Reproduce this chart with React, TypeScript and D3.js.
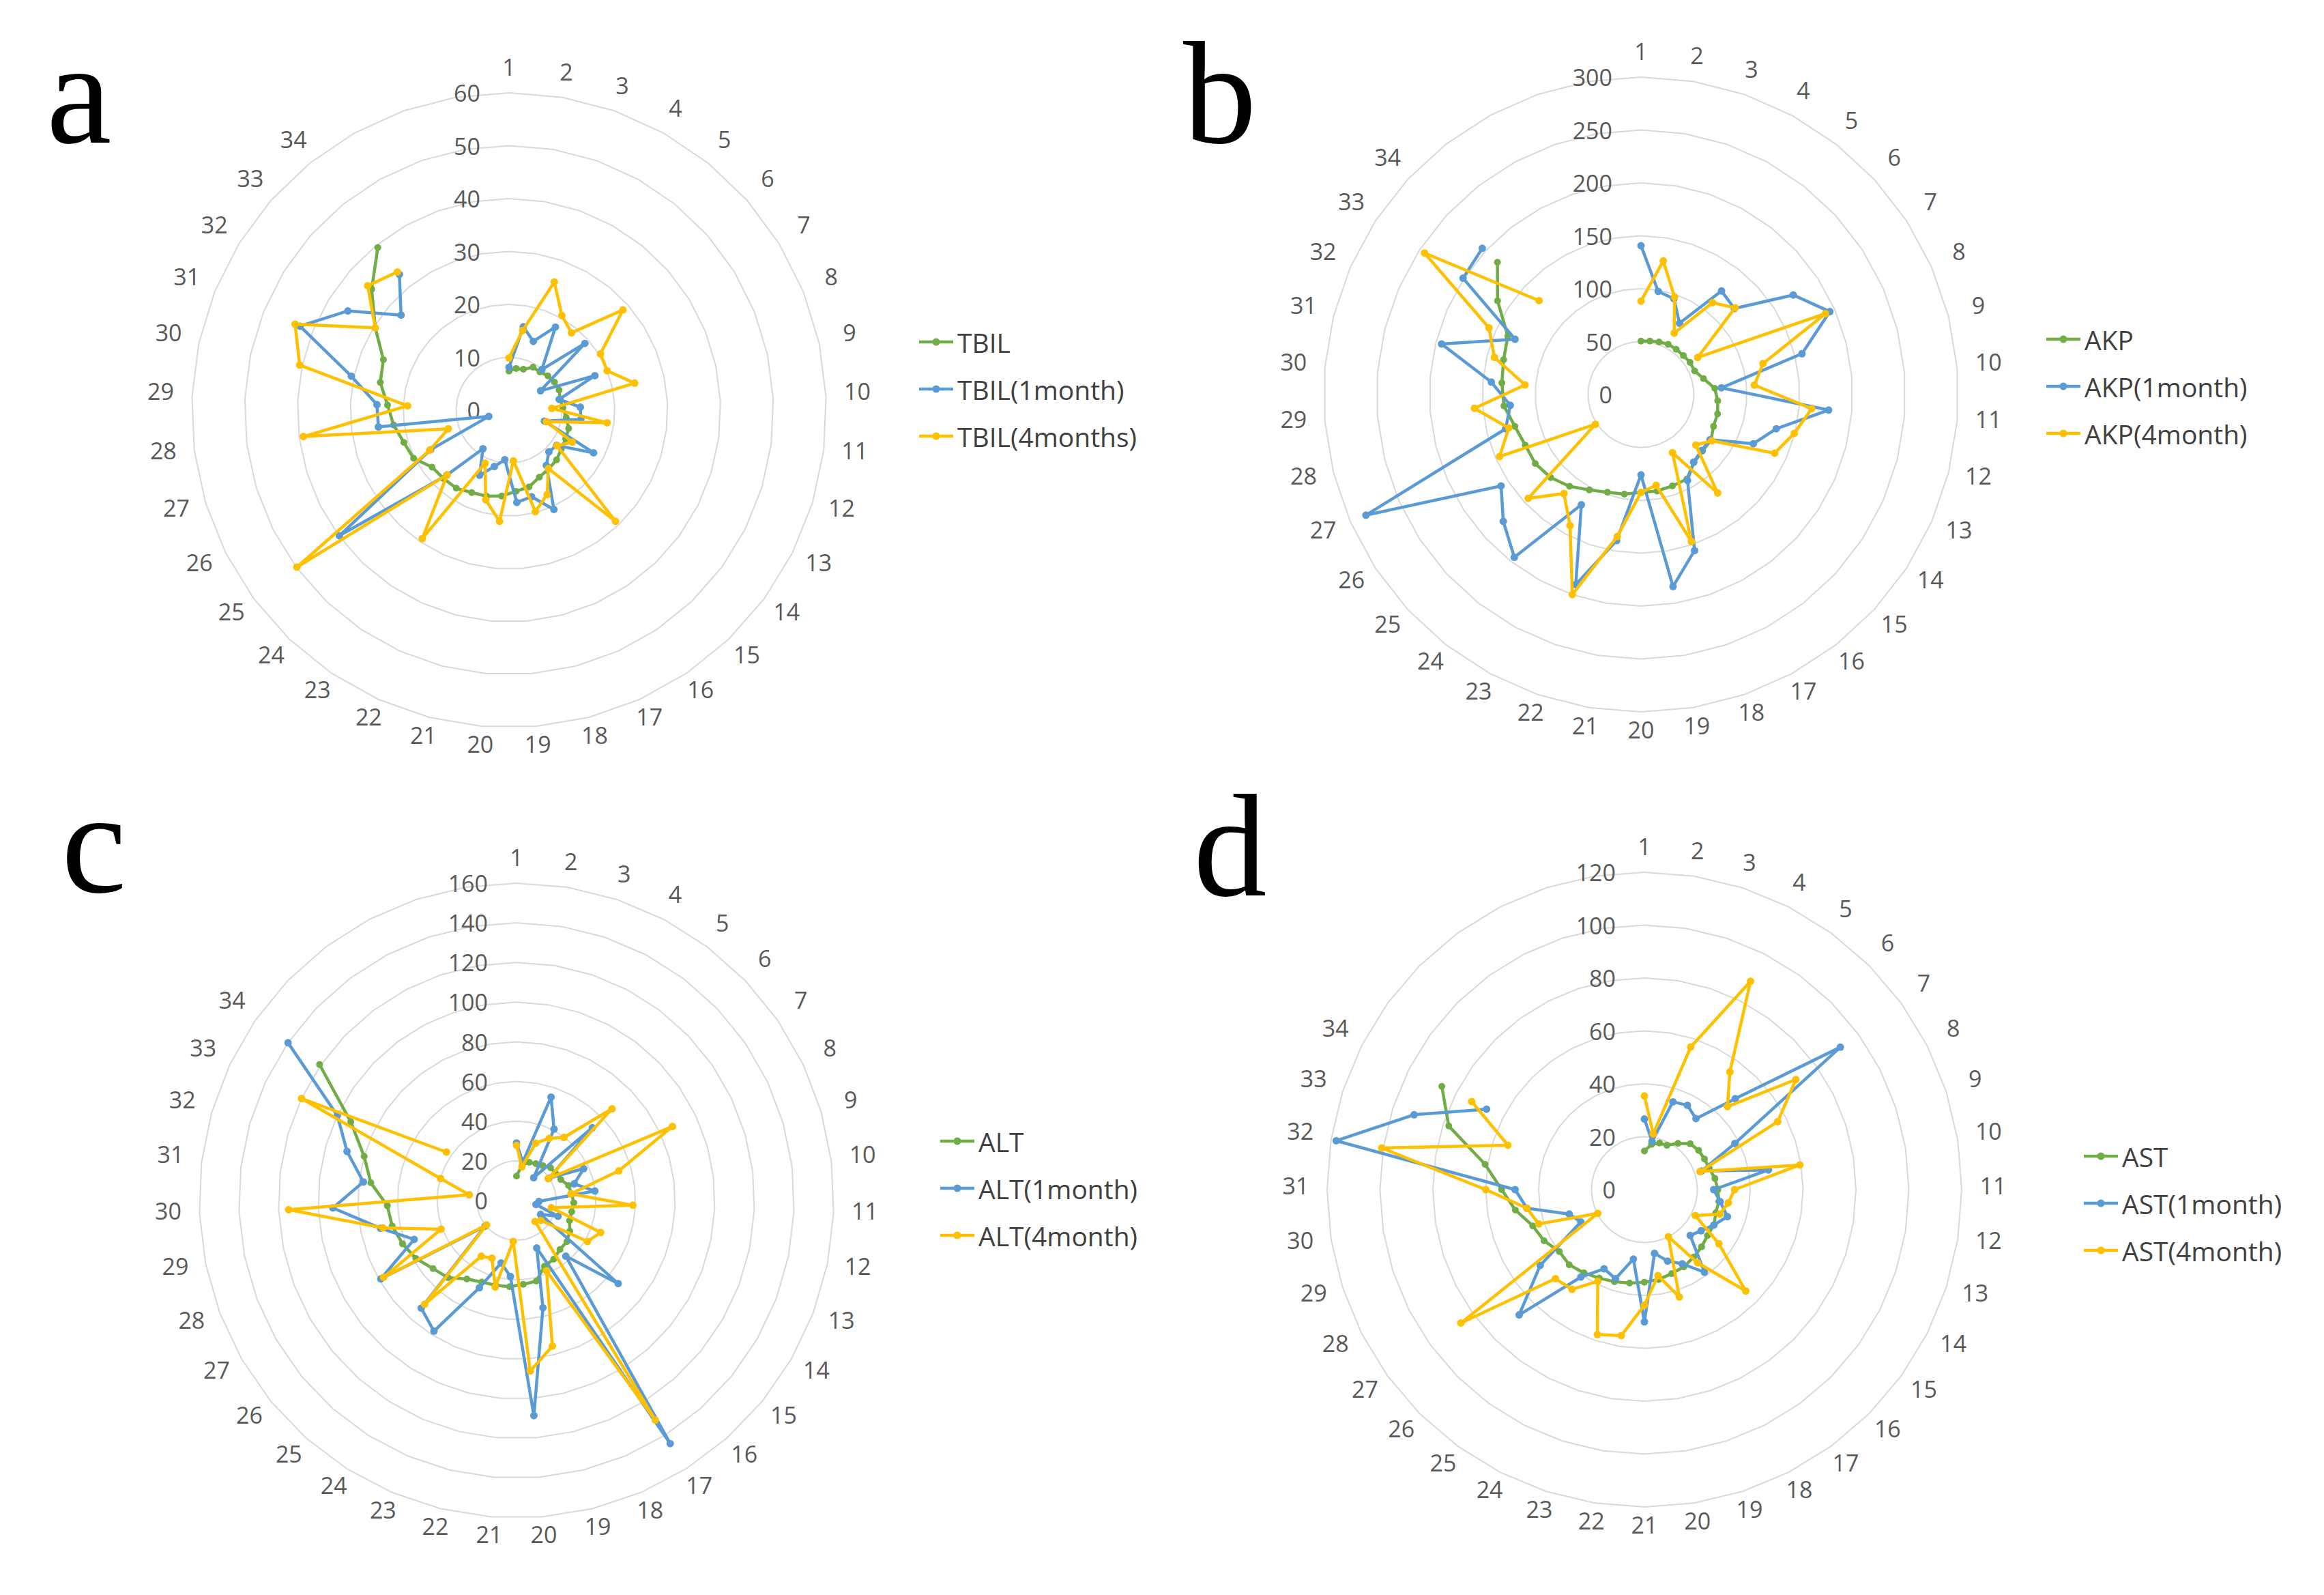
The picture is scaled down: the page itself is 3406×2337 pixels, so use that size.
import * as d3 from "d3";

// category labels 1..34 (the remaining radar slots are blank in the source)
const categories = d3.range(1, 35).map(String);

// panel a
const tbil = [7.4, 8.0, 8.2, 9.3, 9.3, 9.8, 10.1, 10.2, 9.9, 10.2, 10.9, 11.8, 12.0, 12.3, 13.0, 13.4, 13.9, 15.0, 15.4, 16.3, 16.8, 17.1, 17.8, 17.9, 18.1, 20.2, 20.8, 22.0, 23.0, 24.9, 25.6, 29.7, 34.6, 39.5];
const tbil1m = [8.1, 16.0, 13.8, 18.0, 9.9, 19.1, 7.0, 17.5, 9.7, 13.5, 13.7, 7.0, 17.9, 11.2, 10.9, 12.6, 20.6, 16.9, 17.5, 9.4, 11.0, 13.5, 8.8, 17.0, 39.9, 16.6, 4.0, 24.9, 25.0, 30.5, 42.6, 35.8, 27.2, 33.0];
const tbil4m = [9.9, 15.3, 25.7, 20.5, 18.8, 28.7, 20.3, 20.0, 24.3, 8.1, 18.7, 7.4, 13.4, 11.3, 29.1, 13.3, 17.5, 19.8, 9.6, 21.1, 17.5, 11.0, 29.3, 16.9, 49.9, 16.8, 12.0, 39.2, 19.2, 40.5, 43.6, 29.7, 35.6, 33.6];

// panel b
const akp = [50.5, 51.2, 52.5, 54, 54.2, 54.4, 55.4, 55.4, 61, 70, 72.8, 74.7, 74.9, 79, 79, 81.5, 91, 91.4, 92.5, 92.5, 95.5, 97.7, 102.6, 110, 116, 119.4, 119.4, 123, 130, 132, 134, 137.5, 162, 184.5];
const akp1m = [140.6, 98.8, 95.7, 76.6, 124, 120, 172, 195, 157, 76.3, 178, 132, 116, 78, 78, 81, 92.5, 156, 184, 76, 140, 190, 118.5, 195, 177, 158, 284, 132, 124, 142, 194.5, 130, 201, 204];
const akp4m = [88.3, 128, 97.6, 66, 110, 121, 64, 190.5, 119, 107.6, 162, 149.5, 138, 80, 70.5, 118, 62.5, 147, 87, 92.5, 136, 200, 141, 118.6, 145, 51.5, 146, 129, 158, 110, 143, 157, 244.5, 131];

// panel c
const alt = [12.3, 18.3, 20.3, 21, 22, 23.8, 24, 24.7, 27.3, 28, 28.9, 28.4, 28.6, 31, 32.8, 33, 35, 36, 41.8, 42.4, 43.6, 44, 44.7, 46.8, 52, 54.3, 58.5, 61.5, 64, 65.2, 74, 80, 92.5, 120.7];
const alt1m = [29, 19.6, 55, 40.7, 14.4, 53, 19.9, 37.5, 30.3, 39.8, 11.3, 10, 22.4, 14, 66.2, 37.5, 145, 26, 55.7, 108.8, 38.4, 32.4, 47.8, 77.9, 72.5, 20.5, 79, 55.2, 70, 92.7, 77.8, 89, 100, 140];
const alt4m = [27.8, 17.2, 30.5, 35.4, 39.8, 66.8, 19.4, 87, 53.7, 27.6, 58.7, 17.9, 45.4, 41.3, 15.9, 14.1, 131, 38.5, 75.6, 86.2, 20.7, 44.9, 31.6, 33.2, 69.9, 19.5, 77.4, 40.7, 68.8, 115, 24, 39.9, 120, 43];

// panel d
const ast = [14.6, 17.3, 18.5, 18.8, 21.6, 24.5, 25.3, 25.5, 25.8, 27, 27.8, 28.5, 28.4, 29.5, 29.5, 30.6, 31.6, 32.8, 33.4, 34.4, 35, 35.8, 36.6, 37.6, 38.9, 40.2, 39.8, 42.6, 44.4, 49.4, 54, 61, 77.8, 86];
const ast1m = [26.7, 18.5, 34.9, 35.8, 33.2, 48.6, 91.6, 38.4, 22.7, 47.5, 26.2, 29, 33, 29.5, 26.5, 24.5, 38.6, 31.5, 28.4, 24.4, 50, 26.6, 35.4, 33.6, 40.9, 67, 48.7, 27, 29.9, 45, 48.9, 118, 91.6, 67];
const ast4m = [35.4, 21.3, 56.7, 88.4, 55, 44.4, 70.8, 56.6, 22.1, 59.5, 34.1, 32.1, 30, 21.6, 34.8, 54.2, 34.2, 20, 42.7, 32.9, 43.7, 55.9, 57.6, 38.9, 46.6, 47.6, 85.8, 19.8, 42, 45, 60, 100.6, 54.3, 73.3];

const colors = ["#70AD47", "#5B9BD5", "#FFC000"];
const R = 465;

const panels = [
  { letter: "a", cx: 746, cy: 601, slots: 37, max: 60, step: 10, names: ["TBIL", "TBIL(1month)", "TBIL(4months)"], series: [tbil, tbil1m, tbil4m], lx: 68, ly: 209, legX: 1347, legY: 501 },
  { letter: "b", cx: 2405, cy: 578, slots: 38, max: 300, step: 50, names: ["AKP", "AKP(1month)", "AKP(4month)"], series: [akp, akp1m, akp4m], lx: 1734, ly: 209, legX: 2999, legY: 497 },
  { letter: "c", cx: 757, cy: 1759, slots: 39, max: 160, step: 20, names: ["ALT", "ALT(1month)", "ALT(4month)"], series: [alt, alt1m, alt4m], lx: 90, ly: 1307, legX: 1378, legY: 1672 },
  { letter: "d", cx: 2410, cy: 1743, slots: 40, max: 120, step: 20, names: ["AST", "AST(1month)", "AST(4month)"], series: [ast, ast1m, ast4m], lx: 1749, ly: 1312, legX: 3054, legY: 1694 },
];

const labelFont = "'Open Sans', 'Noto Sans', sans-serif";

function RadarPanel({ p }: { p: (typeof panels)[number] }) {
  const r = d3.scaleLinear().domain([0, p.max]).range([0, R]);
  const angle = d3.scaleLinear().domain([0, p.slots]).range([0, 2 * Math.PI]);
  const ticks = d3.range(0, p.max + p.step / 2, p.step);
  const slotIdx = d3.range(p.slots);

  const ring = d3
    .lineRadial<number>()
    .angle((i) => angle(i))
    .curve(d3.curveLinearClosed);

  const seriesLine = d3
    .lineRadial<number>()
    .angle((_, i) => angle(i))
    .radius((v) => r(v));

  const pt = (v: number, i: number) => {
    const a = angle(i);
    return [r(v) * Math.sin(a), -r(v) * Math.cos(a)];
  };

  return (
    <g>
      <text x={p.lx} y={p.ly} fontFamily="'Liberation Serif', 'Times New Roman', serif" fontSize={215} fill="#000">
        {p.letter}
      </text>
      <g transform={`translate(${p.cx},${p.cy})`}>
        {ticks.slice(1).map((t) => (
          <path key={t} d={ring.radius(() => r(t))(slotIdx) ?? ""} fill="none" stroke="#d9d9d9" strokeWidth={2} />
        ))}
        {ticks.map((t) => (
          <text key={"v" + t} x={-42} y={-r(t)} textAnchor="end" dominantBaseline="central" fontFamily={labelFont} fontSize={34} fill="#595959">
            {t}
          </text>
        ))}
        {categories.map((c, i) => {
          const a = angle(i);
          const s = Math.sin(a);
          const rr = R + 32 + 14 * s * s;
          return (
            <text key={"c" + c} x={rr * s} y={-rr * Math.cos(a) - 6} textAnchor="middle" dominantBaseline="central" fontFamily={labelFont} fontSize={34} fill="#595959">
              {c}
            </text>
          );
        })}
        {p.series.map((s, k) => (
          <g key={"s" + k}>
            <path d={seriesLine(s) ?? ""} fill="none" stroke={colors[k]} strokeWidth={4.5} strokeLinejoin="round" />
            {s.map((v, i) => {
              const [x, y] = pt(v, i);
              return <circle key={i} cx={x} cy={y} r={k === 0 ? 5 : 5.5} fill={colors[k]} />;
            })}
          </g>
        ))}
      </g>
      <g transform={`translate(${p.legX},${p.legY})`}>
        {p.names.map((n, k) => (
          <g key={n} transform={`translate(0,${k * 69})`}>
            <line x1={0} x2={50} y1={0} y2={0} stroke={colors[k]} strokeWidth={4.5} />
            <circle cx={25} cy={0} r={5.5} fill={colors[k]} />
            <text x={56} y={0} dominantBaseline="central" fontFamily={labelFont} fontSize={39} fill="#404040">
              {n}
            </text>
          </g>
        ))}
      </g>
    </g>
  );
}

export default function App() {
  return (
    <div style={{ position: "absolute", left: 0, top: 0 }}>
      <svg width={3406} height={2337} viewBox="0 0 3406 2337" style={{ display: "block", background: "#fff" }}>
        <rect width={3406} height={2337} fill="#fff" />
        {panels.map((p) => (
          <RadarPanel key={p.letter} p={p} />
        ))}
      </svg>
    </div>
  );
}
